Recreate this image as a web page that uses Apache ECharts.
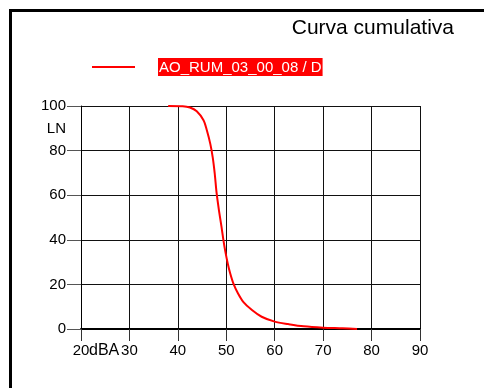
<!DOCTYPE html>
<html>
<head>
<meta charset="utf-8">
<script src="https://cdn.jsdelivr.net/npm/echarts@6/dist/echarts.min.js"></script>
<style>
	html, body { margin: 0; padding: 0; background: #fff; }
	#chart { width: 484px; height: 388px; }
</style>
</head>
<body>
<div id="chart"></div>
<script>
// 数据
var seriesName = 'AO_RUM_03_00_08 / D';
var dbaValues = [38, 41, 42.5, 43.9, 45.3, 46, 46.7, 47.2, 47.6, 48, 48.5, 49, 49.4, 49.75, 50.3, 50.8, 51.5, 52.4, 53.5, 55.3, 57.3, 60, 62.8, 66, 70, 74, 77];
var lnValues = [100, 99.9, 99.3, 97.6, 93.6, 89, 83, 77, 70, 61, 53, 46, 40, 35.4, 29.4, 25, 20.2, 16, 12.2, 8.5, 5.5, 3.3, 2.2, 1.2, 0.6, 0.3, 0];
var xTicks = [20, 30, 40, 50, 60, 70, 80, 90];
var yTicks = [0, 20, 40, 60, 80, 100];

var font = 'Liberation Sans, Arial, sans-serif';

var points = [];
for (var i = 0; i < dbaValues.length; i++) {
	points.push([dbaValues[i], lnValues[i]]);
}

var myChart = echarts.init(document.getElementById('chart'));
var option = {
	backgroundColor: '#fff',
	animation: false,
	title: {
		text: 'Curva cumulativa',
		right: 30,
		top: 18,
		padding: 0,
		textStyle: {
			color: '#000',
			fontFamily: font,
			fontWeight: 'normal',
			fontSize: 21
		}
	},
	legend: {
		left: 92,
		top: 58,
		padding: 0,
		itemWidth: 43,
		itemHeight: 2,
		icon: 'rect',
		formatter: '{gap|}{t|{name}}',
		textStyle: {
			fontFamily: font,
			rich: {
				gap: { width: 18 },
				t: {
					color: '#fff',
					backgroundColor: '#ff0000',
					fontFamily: font,
					fontSize: 15,
					padding: [2, 1, 1, 1]
				}
			}
		},
		data: [seriesName]
	},
	grid: {
		left: 81,
		right: 64,
		top: 106,
		bottom: 59
	},
	xAxis: {
		type: 'value',
		min: xTicks[0],
		max: xTicks[xTicks.length - 1],
		interval: 10,
		axisLine: {
			show: true,
			lineStyle: { color: '#000', width: 2 }
		},
		axisTick: {//坐标刻度
			show: true,
			length: 12,
			lineStyle: { color: '#333' }
		},
		axisLabel: {
			margin: 14,
			color: '#000',
			fontFamily: font,
			fontSize: 15
		},
		splitLine: {
			show: true,
			lineStyle: { color: '#111', width: 1 }
		}
	},
	yAxis: {
		type: 'value',
		min: yTicks[0],
		max: yTicks[yTicks.length - 1],
		interval: 20,
		axisLine: {
			show: true,
			lineStyle: { color: '#000', width: 1 }
		},
		axisTick: {//坐标刻度
			show: true,
			length: 14,
			lineStyle: { color: '#555' }
		},
		axisLabel: {
			margin: 15,
			color: '#000',
			fontFamily: font,
			fontSize: 15
		},
		splitLine: {
			show: true,
			lineStyle: { color: '#111', width: 1 }
		}
	},
	graphic: [
		{
			type: 'rect',
			silent: true,
			shape: { x: 10.5, y: 10.5, width: 520, height: 420 },
			style: { fill: 'none', stroke: '#000', lineWidth: 3 }
		},
		{
			type: 'text',
			x: 66,
			y: 128.5,
			style: {
				text: 'LN',
				fill: '#000',
				font: '15px ' + font,
				textAlign: 'right',
				textVerticalAlign: 'middle'
			}
		},
		{
			type: 'text',
			x: 89,
			y: 343,
			style: {
				text: 'dBA',
				fill: '#000',
				font: '16px ' + font,
				textAlign: 'left',
				textVerticalAlign: 'top'
			}
		}
	],
	series: [{
		name: seriesName,
		type: 'line',
		data: points,
		smooth: 0.3,
		showSymbol: false,
		color: '#ff0000',
		lineStyle: { color: '#ff0000', width: 2 }
	}]
};
myChart.setOption(option);
</script>
</body>
</html>
